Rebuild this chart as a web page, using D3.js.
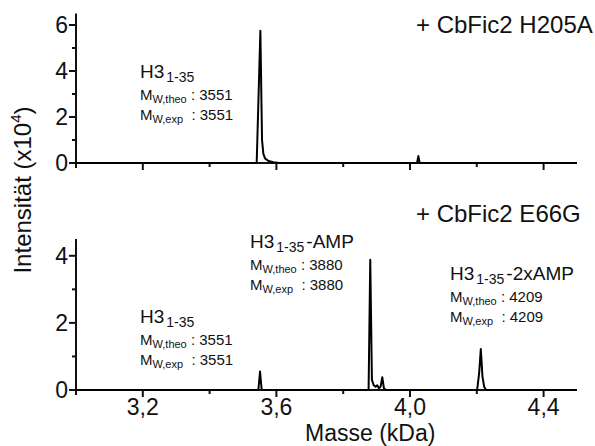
<!DOCTYPE html>
<html>
<head>
<meta charset="utf-8">
<script src="https://cdn.jsdelivr.net/npm/d3@7"></script>
<style>
  body { margin: 0; background: #fff; }
  svg text { font-family: "Liberation Sans", Arial, sans-serif; fill: #111; }
</style>
</head>
<body>
<svg id="chart" width="595" height="446"></svg>
<script>
// Spectrum points: [mass kDa, intensity x10^4]
const topSpectrum = [
    [3.0, 0], [3.541, 0], [3.552, 5.75], [3.557, 1.0], [3.561, 0.4], [3.566, 0.2],
    [3.575, 0.1], [3.59, 0.03], [3.61, 0], [4.021, 0], [4.025, 0.3], [4.029, 0], [4.5, 0],
];
const bottomSpectrum = [
    [3.0, 0], [3.546, 0], [3.551, 0.55], [3.556, 0], [3.876, 0], [3.881, 3.88],
    [3.886, 0.3], [3.891, 0.15], [3.897, 0.1], [3.902, 0.14], [3.907, 0.05],
    [3.912, 0.1], [3.917, 0.38], [3.922, 0.05], [3.928, 0],
    [4.201, 0], [4.207, 0.5], [4.212, 1.22], [4.217, 0.4], [4.222, 0.1], [4.228, 0], [4.5, 0],
];

const xMajorTicks = [3.2, 3.6, 4.0, 4.4];
const xMinorTicks = [3.4, 3.8, 4.2];
const xTickLabels = ['3,2', '3,6', '4,0', '4,4'];
const topYMajor = [0, 2, 4, 6];
const topYMinor = [1, 3, 5];
const bottomYMajor = [0, 2, 4];
const bottomYMinor = [1, 3];

const panelTitles = ['+ CbFic2 H205A', '+ CbFic2 E66G'];

// peak annotations
const topLabels = [
    { main: 'H3', sub: '1-35', suffix: '', mw: '3551' },
];
const bottomLabels = [
    { main: 'H3', sub: '1-35', suffix: '', mw: '3551' },
    { main: 'H3', sub: '1-35', suffix: '-AMP', mw: '3880' },
    { main: 'H3', sub: '1-35', suffix: '-2xAMP', mw: '4209' },
];

const svg = d3.select('#chart');
const left = 76, right = 577;

const x = d3.scaleLinear().domain([3.0, 4.5]).range([left, right]);
const yTop = d3.scaleLinear().domain([0, 6.5]).range([163, 13.5]);
const yBot = d3.scaleLinear().domain([0, 4.5]).range([390, 239]);

function drawPanel(y, data, major, minor) {
    const g = svg.append('g');
    const y0 = y(0);

    // x axis line + ticks (outward, down)
    g.append('line').attr('x1', x(3.0)).attr('x2', x(4.5))
        .attr('y1', y0).attr('y2', y0).attr('stroke', '#111').attr('stroke-width', 2);
    g.selectAll('.xmaj').data(xMajorTicks).join('line')
        .attr('x1', d => x(d)).attr('x2', d => x(d))
        .attr('y1', y0).attr('y2', y0 + 7).attr('stroke', '#111').attr('stroke-width', 2);
    g.selectAll('.xmin').data(xMinorTicks).join('line')
        .attr('x1', d => x(d)).attr('x2', d => x(d))
        .attr('y1', y0).attr('y2', y0 + 4).attr('stroke', '#111').attr('stroke-width', 2);

    // y axis line + ticks (outward, left)
    const yMax = y.domain()[1];
    g.append('line').attr('x1', left).attr('x2', left)
        .attr('y1', y(yMax)).attr('y2', y0 + 5).attr('stroke', '#111').attr('stroke-width', 2);
    g.selectAll('.ymaj').data(major).join('line')
        .attr('x1', left - 7).attr('x2', left)
        .attr('y1', d => y(d)).attr('y2', d => y(d)).attr('stroke', '#111').attr('stroke-width', 2);
    g.selectAll('.ymin').data(minor).join('line')
        .attr('x1', left - 4).attr('x2', left)
        .attr('y1', d => y(d)).attr('y2', d => y(d)).attr('stroke', '#111').attr('stroke-width', 2);
    g.selectAll('.ylab').data(major).join('text')
        .attr('x', left - 8).attr('y', d => y(d) + 8)
        .attr('text-anchor', 'end').attr('font-size', 23)
        .text(d => d);

    // spectrum
    const line = d3.line().x(d => x(d[0])).y(d => y(d[1]));
    g.append('path').datum(data)
        .attr('d', line).attr('fill', 'none')
        .attr('stroke', '#000').attr('stroke-width', 2).attr('stroke-linejoin', 'round');
    return g;
}

drawPanel(yTop, topSpectrum, topYMajor, topYMinor);
drawPanel(yBot, bottomSpectrum, bottomYMajor, bottomYMinor);

// x tick labels on bottom panel only
svg.selectAll('.xlab').data(xMajorTicks).join('text')
    .attr('x', d => x(d)).attr('y', 415)
    .attr('text-anchor', 'middle').attr('font-size', 23)
    .text((d, i) => xTickLabels[i]);

// axis titles
svg.append('text').attr('x', 305).attr('y', 441).attr('font-size', 23).text('Masse (kDa)');
const yt = svg.append('text')
    .attr('transform', 'translate(31,190) rotate(-90)')
    .attr('text-anchor', 'middle').attr('font-size', 24);
yt.append('tspan').text('Intensität (x10');
yt.append('tspan').attr('font-size', 15).attr('dy', -10).text('4');
yt.append('tspan').attr('dy', 10).text(')');

// panel titles
svg.selectAll('.ptitle').data(panelTitles).join('text')
    .attr('x', 416).attr('y', (d, i) => [33, 222][i])
    .attr('font-size', 24).text(d => d);

function annotate(lbl, px, py) {
    const t = svg.append('text').attr('x', px).attr('y', py).attr('font-size', 19);
    t.append('tspan').text(lbl.main);
    t.append('tspan').attr('font-size', 14).attr('dy', 4).attr('dx', 2).text(lbl.sub);
    if (lbl.suffix) t.append('tspan').attr('font-size', 19).attr('dy', -4).attr('dx', 2).text(lbl.suffix);

    [['W,theo', ' : '], ['W,exp', '  : ']].forEach((row, i) => {
        const r = svg.append('text').attr('x', px).attr('y', py + 22 + i * 20).attr('font-size', 15);
        r.append('tspan').text('M');
        r.append('tspan').attr('font-size', 11).attr('dy', 3).text(row[0]);
        r.append('tspan').attr('dy', -3).attr('xml:space', 'preserve').text(row[1] + lbl.mw);
    });
}

annotate(topLabels[0], 140, 78);
annotate(bottomLabels[0], 140, 323);
annotate(bottomLabels[1], 250, 248);
annotate(bottomLabels[2], 450, 280);
</script>
</body>
</html>
